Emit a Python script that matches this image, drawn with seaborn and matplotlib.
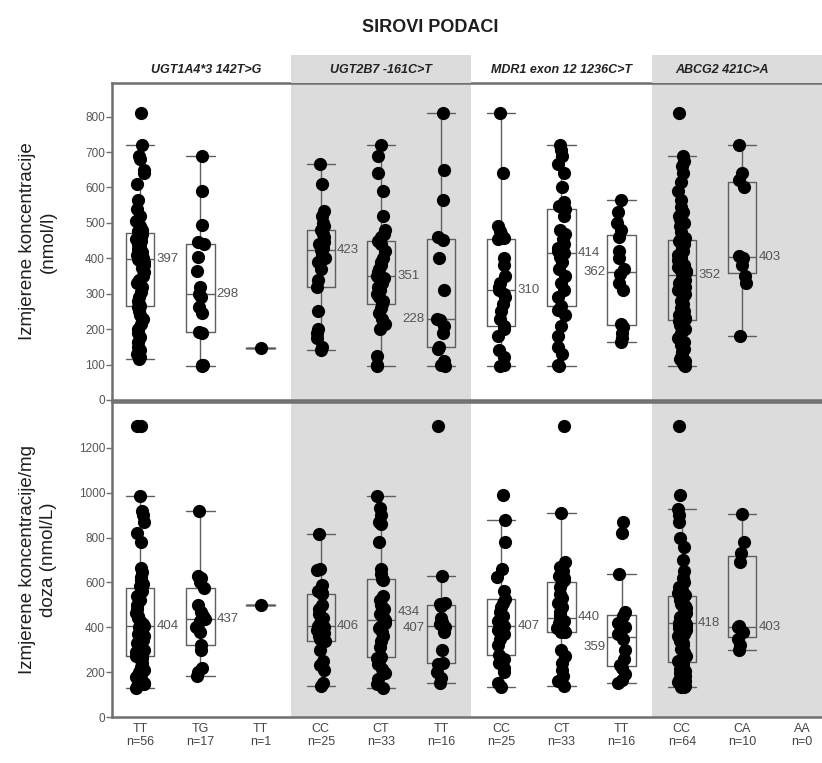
import numpy as np
import pandas as pd
import matplotlib.pyplot as plt
import seaborn as sns

# genes and genotypes
genes = ["UGT1A4*3 142T>G", "UGT2B7 -161C>T", "MDR1 exon 12 1236C>T", "ABCG2 421C>A"]
genotypes = ["TT", "TG", "TT", "CC", "CT", "TT", "CC", "CT", "TT", "CC", "CA", "AA"]

# measured concentrations (nmol/l)
conc_ugt1a4_tt = [810, 720, 690, 680, 650, 640, 610, 565, 540, 520, 505, 490, 480, 478, 470, 460, 455, 450,
                  440, 432, 425, 418, 412, 408, 404, 401, 399, 398, 396, 390, 382, 372, 360, 350, 340, 330,
                  318, 305, 292, 280, 270, 266, 262, 250, 240, 228, 215, 200, 190, 178, 165, 150, 140, 130,
                  122, 115]
conc_ugt1a4_tg = [95, 98, 100, 188, 192, 245, 262, 290, 298, 318, 365, 405, 440, 445, 495, 590, 690]
conc_ugt1a4_gg = [148]
conc_ugt2b7_cc = [140, 150, 175, 190, 200, 250, 320, 340, 370, 390, 400, 410, 423, 430, 440, 445, 460, 470,
                  480, 490, 500, 520, 535, 610, 665]
conc_ugt2b7_ct = [720, 690, 640, 590, 520, 480, 470, 460, 450, 440, 420, 400, 390, 380, 370, 360, 351, 345,
                  330, 320, 310, 300, 290, 280, 270, 260, 245, 230, 215, 200, 125, 100, 95]
conc_ugt2b7_tt = [95, 100, 110, 145, 150, 190, 210, 225, 230, 310, 400, 452, 460, 565, 650, 810]
conc_mdr1_cc = [810, 640, 490, 478, 468, 458, 455, 400, 380, 350, 330, 320, 310, 300, 290, 270, 250, 230,
                210, 200, 180, 140, 120, 100, 95]
conc_mdr1_ct = [720, 705, 690, 665, 640, 600, 560, 548, 540, 520, 480, 470, 455, 440, 430, 420, 414, 405,
                390, 370, 350, 330, 310, 290, 265, 255, 240, 210, 180, 150, 130, 100, 95]
conc_mdr1_tt = [165, 175, 190, 205, 215, 310, 330, 355, 370, 400, 420, 460, 480, 500, 530, 565]
conc_abcg2_cc = [810, 690, 675, 660, 640, 615, 590, 565, 545, 530, 520, 510, 500, 490, 475, 456, 452, 448,
                 440, 430, 420, 410, 400, 395, 390, 380, 375, 370, 365, 360, 358, 355, 349, 345, 340, 330,
                 320, 310, 300, 290, 280, 270, 260, 250, 240, 235, 232, 228, 222, 212, 200, 188, 175, 165,
                 155, 145, 135, 125, 120, 115, 110, 105, 100, 95]
conc_abcg2_ca = [180, 330, 350, 380, 400, 406, 600, 620, 640, 720]
conc_abcg2_aa = []

# concentration per mg dose (nmol/L)
dose_ugt1a4_tt = [1300, 1300, 985, 920, 900, 870, 820, 780, 665, 645, 625, 610, 595, 585, 575, 560, 540, 520,
                  500, 480, 465, 450, 440, 430, 420, 415, 410, 406, 402, 398, 390, 380, 370, 360, 345, 330,
                  315, 300, 290, 282, 276, 272, 265, 255, 240, 225, 210, 200, 190, 180, 170, 160, 150, 145,
                  138, 130]
dose_ugt1a4_tg = [185, 200, 220, 300, 322, 380, 400, 430, 437, 450, 470, 500, 575, 600, 620, 630, 920]
dose_ugt1a4_gg = [500]
dose_ugt2b7_cc = [815, 660, 655, 590, 560, 555, 550, 500, 480, 460, 440, 420, 406, 400, 390, 375, 360, 350,
                  340, 300, 250, 230, 210, 150, 140]
dose_ugt2b7_ct = [985, 930, 900, 870, 860, 780, 660, 640, 615, 610, 540, 520, 500, 480, 460, 445, 434, 420,
                  405, 395, 380, 360, 340, 310, 268, 262, 250, 235, 215, 195, 170, 145, 130]
dose_ugt2b7_tt = [150, 175, 200, 235, 240, 300, 380, 400, 414, 425, 440, 495, 505, 510, 630, 1300]
dose_mdr1_cc = [989, 878, 781, 660, 625, 560, 525, 510, 490, 470, 450, 430, 407, 400, 390, 370, 350, 320,
                275, 260, 240, 220, 200, 150, 135]
dose_mdr1_ct = [1300, 910, 690, 670, 650, 630, 620, 610, 603, 580, 550, 530, 510, 490, 470, 455, 440, 430,
                420, 410, 405, 398, 392, 385, 380, 378, 300, 270, 240, 210, 185, 160, 138]
dose_mdr1_tt = [150, 165, 190, 220, 230, 260, 300, 350, 368, 400, 420, 450, 470, 640, 820, 870]
dose_abcg2_cc = [1300, 989, 926, 900, 870, 800, 760, 700, 650, 620, 600, 580, 565, 555, 548, 542, 536, 530,
                 520, 505, 495, 485, 475, 465, 455, 448, 440, 435, 430, 426, 422, 420, 416, 412, 405, 398,
                 390, 380, 370, 360, 350, 340, 330, 320, 305, 290, 270, 250, 240, 235, 225, 215, 205, 195,
                 185, 175, 165, 160, 155, 150, 145, 140, 135, 132]
dose_abcg2_ca = [300, 320, 350, 380, 400, 406, 690, 730, 780, 905]
dose_abcg2_aa = []

conc_groups = [conc_ugt1a4_tt, conc_ugt1a4_tg, conc_ugt1a4_gg, conc_ugt2b7_cc, conc_ugt2b7_ct,
               conc_ugt2b7_tt, conc_mdr1_cc, conc_mdr1_ct, conc_mdr1_tt, conc_abcg2_cc, conc_abcg2_ca,
               conc_abcg2_aa]
dose_groups = [dose_ugt1a4_tt, dose_ugt1a4_tg, dose_ugt1a4_gg, dose_ugt2b7_cc, dose_ugt2b7_ct,
               dose_ugt2b7_tt, dose_mdr1_cc, dose_mdr1_ct, dose_mdr1_tt, dose_abcg2_cc, dose_abcg2_ca,
               dose_abcg2_aa]

order = [f"g{i}" for i in range(len(genotypes))]
GRAY = "#dcdcdc"
LINE = "#6f6f6f"
XLIM = (-0.47, 11.33)
BOX_W = 0.47

sns.set_theme(style="white")
plt.rcParams["font.family"] = ["Liberation Sans", "DejaVu Sans"]
np.random.seed(3)


def draw_row(ax, groups, ymax, yticks, ylabel, label_side, label_dy):
    df = pd.DataFrame([(order[i], v) for i, vals in enumerate(groups) for v in vals],
                      columns=["grupa", "vrijednost"])

    # shaded panels
    for lo, hi in [(2.5, 5.5), (8.5, 12)]:
        ax.axvspan(lo, hi, color=GRAY, lw=0, zorder=0)

    sns.boxplot(data=df, x="grupa", y="vrijednost", order=order, fill=False, width=BOX_W,
                color="#5e5e5e", linewidth=1, showfliers=False, whis=1.5, capwidths=BOX_W, ax=ax)
    sns.stripplot(data=df, x="grupa", y="vrijednost", order=order, color="black", size=9.5,
                  jitter=0.07, linewidth=0, ax=ax, zorder=3)

    # median labels
    for i, vals in enumerate(groups):
        if len(vals) < 2:
            continue
        med = np.median(vals)
        if label_side[i] == "r":
            ax.text(i + 0.27, med + label_dy[i], f"{round(med)}", ha="left", va="center",
                    fontsize=9.5, color="#555555", zorder=4)
        else:
            ax.text(i - 0.27, med + label_dy[i], f"{round(med)}", ha="right", va="center",
                    fontsize=9.5, color="#555555", zorder=4)

    ax.set_xlim(*XLIM)
    ax.set_ylim(0, ymax)
    ax.set_yticks(yticks)
    ax.set_xlabel("")
    ax.set_ylabel(ylabel, fontsize=13.5, color="#1e1e1e", linespacing=1.3)
    ax.yaxis.set_label_coords(-0.078, 0.5)
    ax.tick_params(axis="y", left=True, length=4, width=1, color=LINE, labelsize=8.5,
                   labelcolor="#555555", pad=1)
    for side in ["left", "top", "bottom"]:
        ax.spines[side].set_color(LINE)
        ax.spines[side].set_linewidth(1.8)
    ax.spines["right"].set_visible(False)


fig = plt.figure(figsize=(8.22, 7.63), dpi=100)
W, H = 822, 763
ax_top = fig.add_axes([112 / W, 1 - 400 / H, 1 - 112 / W, (400 - 83) / H])
ax_bot = fig.add_axes([112 / W, 1 - 717 / H, 1 - 112 / W, (717 - 402) / H])
ax_head = fig.add_axes([112 / W, 1 - 83 / H, 1 - 112 / W, 28 / H])

draw_row(ax_top, conc_groups, 895, range(0, 801, 100), "Izmjerene koncentracije\n(nmol/l)",
         ["r", "r", "r", "r", "r", "l", "r", "r", "l", "r", "r", "r"],
         [0] * 12)
draw_row(ax_bot, dose_groups, 1405, range(0, 1201, 200), "Izmjerene koncentracije/mg\ndoza (nmol/L)",
         ["r", "r", "r", "r", "r", "l", "r", "r", "l", "r", "r", "r"],
         [0, 0, 0, 0, 35, -10, 0, 5, -45, 0, 0, 0])

ax_top.set_xticks([])
ax_bot.set_xticks(range(len(genotypes)))
ax_bot.set_xticklabels([f"{g}\nn={len(v)}" for g, v in zip(genotypes, dose_groups)],
                       fontsize=9, color="#444444", linespacing=1.15)
ax_bot.tick_params(axis="x", length=0, pad=4)

# gene headers
ax_head.set_xlim(*XLIM)
ax_head.set_ylim(0, 1)
ax_head.axis("off")
for lo, hi in [(2.5, 5.5), (8.5, 12)]:
    ax_head.axvspan(lo, hi, color=GRAY, lw=0)
for x, gene in zip([1.1, 4, 7, 9.67], genes):
    ax_head.text(x, 0.45, gene, ha="center", va="center", fontsize=9, fontstyle="italic",
                 fontweight="bold", color="#222222",
                 family=["Liberation Sans Narrow", "Liberation Sans", "DejaVu Sans"])

fig.text(0.523, 0.964, "SIROVI PODACI", ha="center", va="center", fontsize=13,
         fontweight="bold", color="#1e1e1e")

fig.savefig("out.png", dpi=100)
